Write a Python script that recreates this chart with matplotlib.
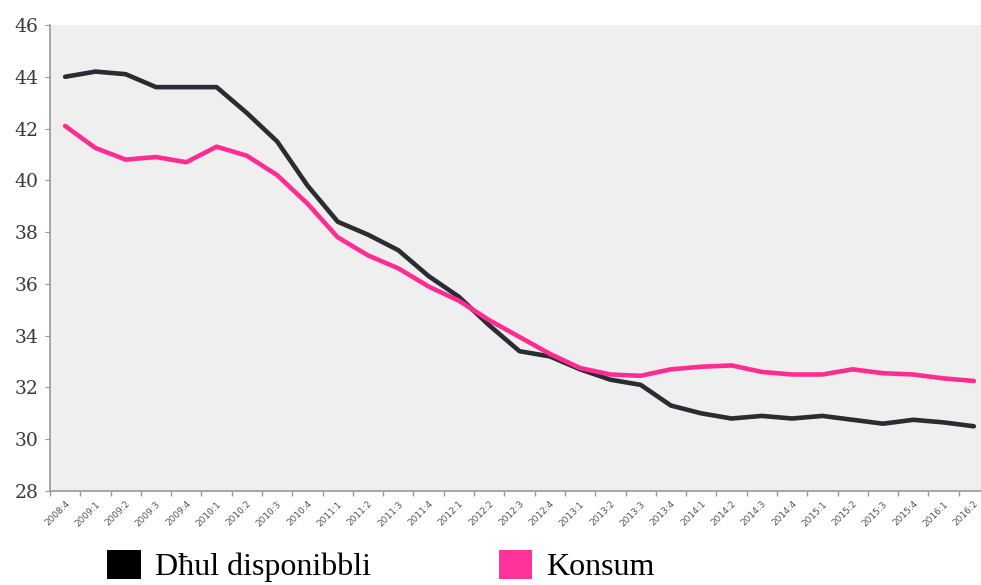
import matplotlib
matplotlib.use("Agg")
import matplotlib.pyplot as plt
from matplotlib.patches import Patch
import numpy as np

quarters = ["2008:4", "2009:1", "2009:2", "2009:3", "2009:4", "2010:1", "2010:2", "2010:3",
            "2010:4", "2011:1", "2011:2", "2011:3", "2011:4", "2012:1", "2012:2", "2012:3",
            "2012:4", "2013:1", "2013:2", "2013:3", "2013:4", "2014:1", "2014:2", "2014:3",
            "2014:4", "2015:1", "2015:2", "2015:3", "2015:4", "2016:1", "2016:2"]

dhul = [44.0, 44.2, 44.1, 43.6, 43.6, 43.6, 42.6, 41.5, 39.8, 38.4, 37.9, 37.3, 36.3, 35.5,
        34.4, 33.4, 33.2, 32.7, 32.3, 32.1, 31.3, 31.0, 30.8, 30.9, 30.8, 30.9, 30.75, 30.6,
        30.75, 30.65, 30.5]
konsum = [42.1, 41.25, 40.8, 40.9, 40.7, 41.3, 40.95, 40.2, 39.1, 37.8, 37.1, 36.6, 35.9,
          35.35, 34.6, 33.95, 33.3, 32.75, 32.5, 32.45, 32.7, 32.8, 32.85, 32.6, 32.5, 32.5,
          32.7, 32.55, 32.5, 32.35, 32.25]

labels = ["Dħul disponibbli", "Konsum"]
black = "#2a2c31"
pink = "#ff2d92"

fig = plt.figure(figsize=(9.81, 5.85), dpi=100)
ax = fig.add_axes([50/981, 1-491/585, 939/981, (491-25)/585])
ax.set_facecolor("#efefef")

x = np.arange(len(quarters))
ax.plot(x, dhul, color=black, lw=3.3, solid_capstyle="round", solid_joinstyle="round")
ax.plot(x, konsum, color=pink, lw=3.3, solid_capstyle="round", solid_joinstyle="round")

ax.set_ylim(28, 46)
ax.set_yticks(np.arange(28, 47, 2))
ax.set_xlim(-0.5, 30.5)
ax.set_xticks(x)
ax.set_xticklabels(quarters, rotation=45, ha="right", rotation_mode="anchor",
                   fontsize=6.5, color="#555555", fontfamily="DejaVu Sans")
ax.set_xticks(np.arange(-0.5, 31, 1), minor=True)
ax.tick_params(axis="x", which="major", length=0, pad=6)
ax.tick_params(axis="x", which="minor", length=3.5, color="#999999", width=1)
ax.tick_params(axis="y", length=3.5, color="#999999", labelsize=13.5, labelcolor="#3a3a3a", pad=5)
for lbl in ax.get_yticklabels():
    lbl.set_fontfamily("DejaVu Serif")

for s in ["top", "right"]:
    ax.spines[s].set_visible(False)
for s in ["left", "bottom"]:
    ax.spines[s].set_color("#999999")
    ax.spines[s].set_linewidth(1.2)

handles = [Patch(facecolor="#000000"), Patch(facecolor="#ff3399")]
fig.legend(handles, labels, loc="center left", bbox_to_anchor=(107/981, 1-566/585), ncol=2,
           frameon=False, prop={"family": "Liberation Serif", "size": 23},
           borderaxespad=0, borderpad=0,
           handlelength=1.05, handleheight=1.05, handletextpad=0.45, columnspacing=4.0)

fig.savefig("out.png", dpi=100)
